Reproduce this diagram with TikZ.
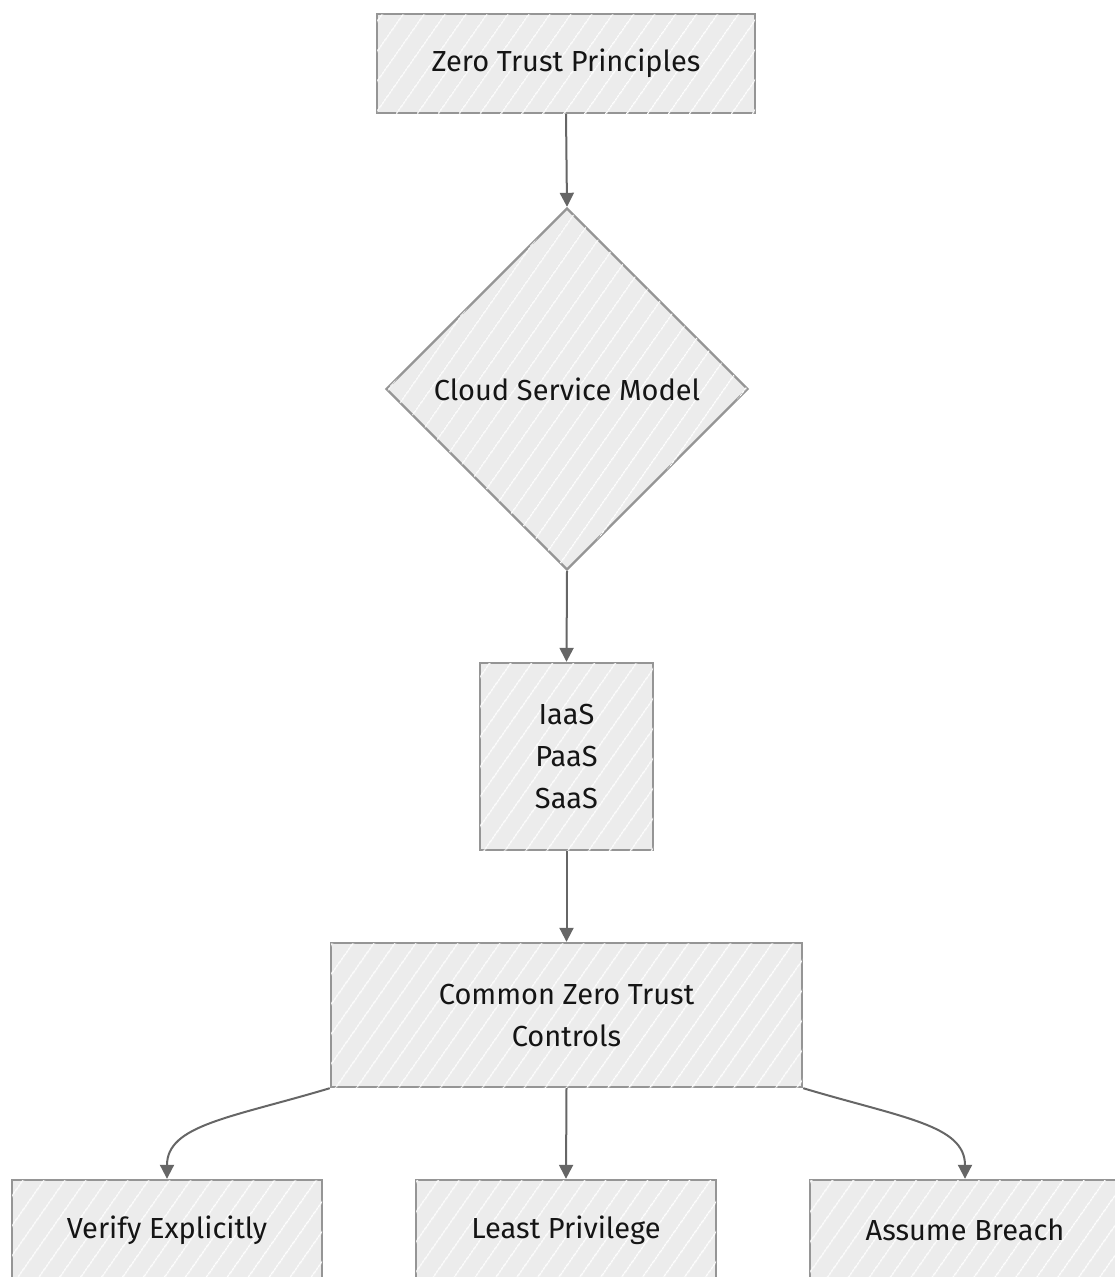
\documentclass[tikz,border=0pt]{standalone}
\usepackage{fontspec}
\setmainfont{Fira Sans}
\usetikzlibrary{shapes.geometric,patterns.meta,arrows.meta}
\definecolor{boxfill}{HTML}{ECECEC}
\definecolor{boxline}{HTML}{959595}
\definecolor{linkcol}{HTML}{666666}
\definecolor{txt}{HTML}{151515}
\tikzset{
  hatched/.style={fill=boxfill, draw=boxline, line width=2.4pt,
    postaction={pattern={Lines[angle=55,distance=17pt,line width=1.1pt]}, pattern color=white}},
  card/.style={hatched, rectangle, inner sep=0pt, text=txt,
    font=\fontsize{29}{42}\selectfont, align=center},
  decision/.style={hatched, diamond, inner sep=0pt, aspect=1, text=txt,
    font=\fontsize{29}{42}\selectfont},
  link/.style={draw=linkcol, line width=2pt,
    -{Triangle[length=14pt,width=14pt]}},
}
\begin{document}
\begin{tikzpicture}[x=1pt,y=-1pt]
  \useasboundingbox (0,0) rectangle (1115,1277);
  \node[card, minimum width=378pt, minimum height=99pt] (ztp) at (566,63.5) {Zero Trust Principles};
  \node[decision, minimum width=362pt, minimum height=362pt] (csm) at (567,389) {Cloud Service Model};
  \node[card, minimum width=173pt, minimum height=187pt] (models) at (566.5,756.5) {IaaS\\PaaS\\SaaS};
  \node[card, minimum width=471pt, minimum height=144pt] (ctrl) at (566.5,1015) {Common Zero Trust\\Controls};
  \node[card, minimum width=310pt, minimum height=100pt] (verify) at (167,1230) {Verify Explicitly};
  \node[card, minimum width=300pt, minimum height=100pt] (least) at (566,1230) {Least Privilege};
  \node[card, minimum width=310pt, minimum height=100pt] (breach) at (965,1230) {Assume Breach};

  \draw[link] (ztp.south) -- (csm.north);
  \draw[link] (csm.south) -- (models.north);
  \draw[link] (models.south) -- (ctrl.north);
  \draw[link] (ctrl.south) -- (least.north);
  \draw[link] (ctrl.south west) .. controls (230,1118) and (167,1125) .. (verify.north);
  \draw[link] (ctrl.south east) .. controls (903,1118) and (965,1125) .. (breach.north);
\end{tikzpicture}
\end{document}
